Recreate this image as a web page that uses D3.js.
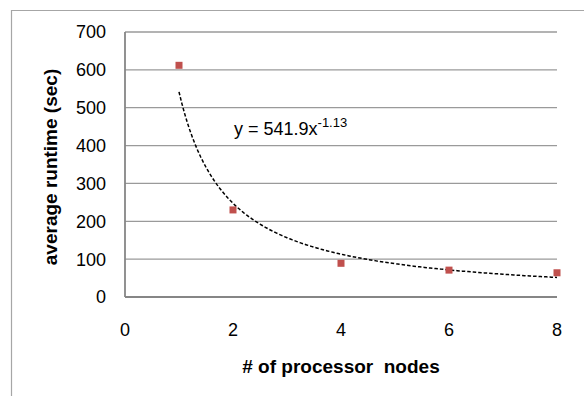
<!DOCTYPE html>
<html><head><meta charset="utf-8">
<script src="https://cdn.jsdelivr.net/npm/d3@7"></script>
<style>body{margin:0;background:#fff}svg{display:block}text{font-family:"Liberation Sans",Arial,sans-serif}</style>
</head><body><svg id="c" width="584" height="396"></svg>
<script>
const nodes = [1, 2, 4, 6, 8];
const runtime = [612, 230, 89, 71, 64];
const xTicks = [0, 2, 4, 6, 8];
const yTicks = [0, 100, 200, 300, 400, 500, 600, 700];
const fitCoef = 541.9, fitExp = -1.13;

const svg = d3.select("#c");
const L = 125, R = 557, T = 32, B = 297;
const x = d3.scaleLinear().domain([0, 8]).range([L, R]);
const y = d3.scaleLinear().domain([0, 700]).range([B, T]);

// outer chart border
svg.append("path").attr("d", "M11.5,400 V10.5 H590").attr("fill", "none").attr("stroke", "#a6a6a6").attr("stroke-width", 1.2);

// gridlines
svg.append("g").selectAll("line").data(yTicks.filter(d => d > 0)).join("line")
  .attr("x1", L).attr("x2", R).attr("y1", d => y(d)).attr("y2", d => y(d))
  .attr("stroke", "#9a9a9a").attr("stroke-width", 1.3);

// axes lines
svg.append("line").attr("x1", L).attr("x2", L).attr("y1", T).attr("y2", B).attr("stroke", "#868686").attr("stroke-width", 1.8);
svg.append("line").attr("x1", L).attr("x2", R).attr("y1", B).attr("y2", B).attr("stroke", "#868686").attr("stroke-width", 1.8);

// tick labels
svg.append("g").selectAll("text").data(yTicks).join("text")
  .attr("x", 106).attr("y", d => y(d)).attr("dy", "0.36em").attr("text-anchor", "end")
  .attr("font-size", 18).attr("fill", "#000").text(d => d);
svg.append("g").selectAll("text").data(xTicks).join("text")
  .attr("x", d => x(d)).attr("y", 336).attr("text-anchor", "middle")
  .attr("font-size", 18).attr("fill", "#000").text(d => d);

// trendline
const fx = d3.range(1, 8.0001, 0.05);
const line = d3.line().x(d => x(d)).y(d => y(fitCoef * Math.pow(d, fitExp)));
svg.append("path").datum(fx).attr("d", line).attr("fill", "none")
  .attr("stroke", "#000").attr("stroke-width", 1.5).attr("stroke-dasharray", "3.5,2");

// points
svg.append("g").selectAll("rect").data(nodes.map((n, i) => [n, runtime[i]])).join("rect")
  .attr("x", d => x(d[0]) - 3.5).attr("y", d => y(d[1]) - 3.5).attr("width", 7).attr("height", 7)
  .attr("fill", "#c0504d");

// equation label
const eq = svg.append("text").attr("x", 234).attr("y", 135).attr("font-size", 18).attr("fill", "#000");
eq.append("tspan").text("y = " + fitCoef + "x");
eq.append("tspan").attr("dy", -8).attr("font-size", 13).text(fitExp);

// axis titles
svg.append("text").attr("x", 341).attr("y", 373).attr("text-anchor", "middle")
  .attr("font-size", 19).attr("font-weight", "bold").attr("xml:space", "preserve").style("white-space", "pre")
  .text("# of processor  nodes");
svg.append("text").attr("transform", "translate(57,167) rotate(-90)").attr("text-anchor", "middle")
  .attr("font-size", 19).attr("font-weight", "bold").text("average runtime (sec)");
</script></body></html>
